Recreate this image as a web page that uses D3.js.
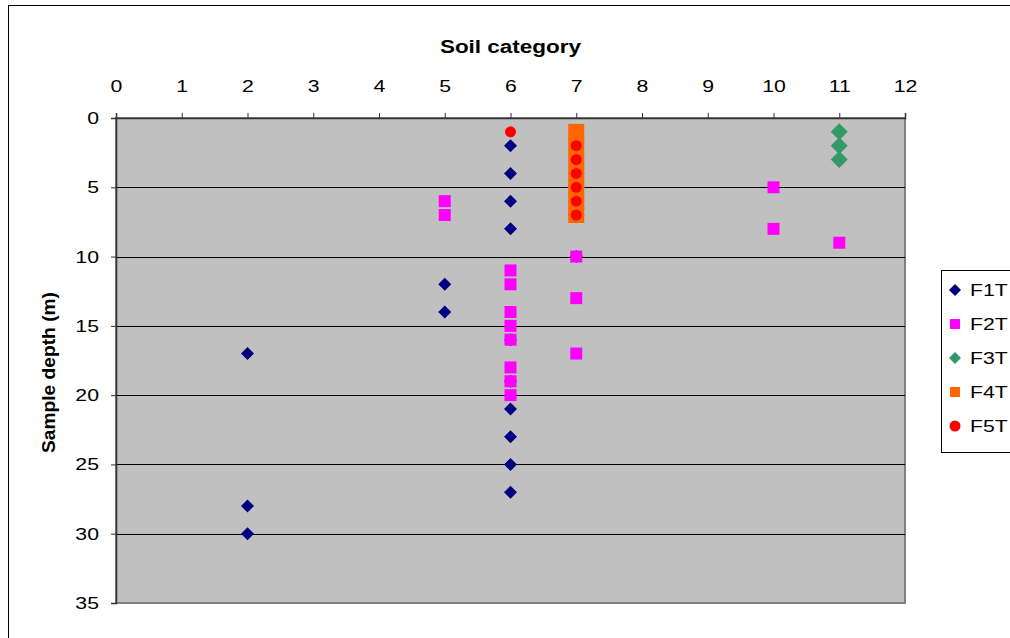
<!DOCTYPE html>
<html><head><meta charset="utf-8">
<script src="https://cdn.jsdelivr.net/npm/d3@7"></script>
<style>body{margin:0;background:#fff;}svg{display:block;font-family:Arial,"Liberation Sans",sans-serif;}</style>
</head><body>
<svg id="c" width="1010" height="638"></svg>
<script>
const xTicks = [0,1,2,3,4,5,6,7,8,9,10,11,12];
const yTicks = [0,5,10,15,20,25,30,35];
const seriesNames = ["F1T","F2T","F3T","F4T","F5T"];
const seriesColors = ["#000080","#FF00FF","#339966","#FF6600","#FF0000"];
const seriesShapes = ["diamond","square","diamond","square","circle"];
const seriesSizes = [13,12,17,16,11];
const f1tX = [6,6,6,6,6,6,6,6,6,6,5,5,2,2,2,7];
const f1tY = [2,4,6,8,16,19,21,23,25,27,12,14,17,28,30,10];
const f2tX = [5,5,6,6,6,6,6,6,6,6,7,7,7,10,10,11];
const f2tY = [6,7,11,12,14,15,16,18,19,20,10,13,17,5,8,9];
const f3tX = [11,11,11,7,7,7,7];
const f3tY = [1,2,3,4,5,6,7];
const f4tX = [7,7,7,7,7,7,7];
const f4tY = [1,2,3,4,5,6,7];
const f5tX = [6,7,7,7,7,7,7];
const f5tY = [1,2,3,4,5,6,7];
const allX = [f1tX,f2tX,f3tX,f4tX,f5tX];
const allY = [f1tY,f2tY,f3tY,f4tY,f5tY];

const svg = d3.select("#c");
const L=116, R=905, T=118, B=603;
const SX = 1.25; // horizontal stretch of the original text
const x = d3.scaleLinear().domain([0,12]).range([L,R]);
const y = d3.scaleLinear().domain([0,35]).range([T,B]);

function stretch(sel, ax){
  sel.attr("transform", `translate(${ax},0) scale(${SX},1) translate(${-ax},0)`);
}

// outer chart border
svg.append("rect").attr("x",8.5).attr("y",5.5).attr("width",1010).attr("height",640)
  .attr("fill","#fff").attr("stroke","#000").attr("stroke-width",1);

// plot area
svg.append("rect").attr("x",L).attr("y",T).attr("width",R-L).attr("height",B-T)
  .attr("fill","#C0C0C0").attr("stroke","#808080").attr("stroke-width",2);

// gridlines
svg.append("g").selectAll("line").data(yTicks.filter(d=>d>0&&d<35)).join("line")
  .attr("x1",L).attr("x2",R).attr("y1",d=>Math.round(y(d))+0.5).attr("y2",d=>Math.round(y(d))+0.5)
  .attr("stroke","#000").attr("stroke-width",1);

// axes
const xAxis = d3.axisTop(x).tickValues(xTicks).tickSize(5).tickPadding(21).tickFormat(d3.format("d"));
const gx = svg.append("g").attr("transform",`translate(0,${T})`).call(xAxis);
gx.select(".domain").attr("stroke","#333").attr("stroke-width",1.5);
gx.selectAll(".tick line").attr("stroke","#333");
gx.selectAll("text").attr("font-size",17).attr("fill","#000").attr("font-family","Arial, 'Liberation Sans', sans-serif")
  .attr("transform",`scale(${SX},1)`);

const yAxis = d3.axisLeft(y).tickValues(yTicks).tickSize(5).tickPadding(12).tickFormat(d3.format("d"));
const gy = svg.append("g").attr("transform",`translate(${L},0)`).call(yAxis);
gy.select(".domain").attr("stroke","#333").attr("stroke-width",1.5);
gy.selectAll(".tick line").attr("stroke","#333");
gy.selectAll("text").attr("font-size",17).attr("fill","#000").attr("font-family","Arial, 'Liberation Sans', sans-serif")
  .call(s=>stretch(s,-17));

// axis titles
const cx = (L+R)/2;
svg.append("text").attr("x",cx).attr("y",53).attr("text-anchor","middle")
  .attr("font-size",18).attr("font-weight","bold").text("Soil category")
  .call(s=>stretch(s,cx));
svg.append("text").attr("transform",`translate(55,${(T+B)/2+12}) rotate(-90) scale(1.2,1.1)`).attr("text-anchor","middle")
  .attr("font-size",16).attr("font-weight","bold").text("Sample depth (m)");

function shapePath(shape,s){
  const h=s/2;
  if(shape==="diamond") return `M0,${-h}L${h},0L0,${h}L${-h},0Z`;
  if(shape==="square") return `M${-h},${-h}H${h}V${h}H${-h}Z`;
  return d3.symbol(d3.symbolCircle, Math.PI*h*h)();
}

// series
seriesNames.forEach((name,i)=>{
  const pts = allX[i].map((v,j)=>({x:v,y:allY[i][j]}));
  svg.append("g").selectAll("path").data(pts).join("path")
    .attr("transform",d=>`translate(${x(d.x)},${y(d.y)})`)
    .attr("d",shapePath(seriesShapes[i],seriesSizes[i]))
    .attr("fill",seriesColors[i]);
});

// legend
const lg = svg.append("g");
lg.append("rect").attr("x",941.5).attr("y",270.5).attr("width",80).attr("height",182)
  .attr("fill","#fff").attr("stroke","#000").attr("stroke-width",1);
seriesNames.forEach((name,i)=>{
  const cy = 290 + i*34;
  const s = seriesShapes[i]==="diamond"?12:(seriesShapes[i]==="circle"?11:10);
  lg.append("path").attr("transform",`translate(955,${cy})`).attr("d",shapePath(seriesShapes[i],s)).attr("fill",seriesColors[i]);
  lg.append("text").attr("x",970).attr("y",cy+6).attr("font-size",17).text(name)
    .call(s2=>stretch(s2,970));
});
</script>
</body></html>
